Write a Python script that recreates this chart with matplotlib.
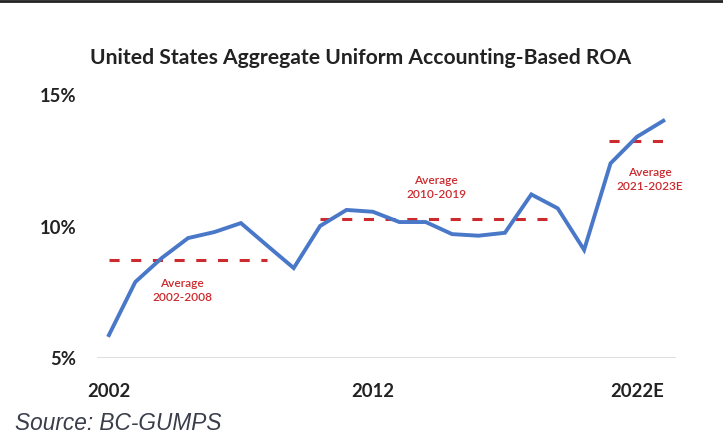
import numpy as np
import matplotlib.pyplot as plt
from matplotlib.lines import Line2D

# ROA data (percent)
years = list(range(2002, 2024))
roa = [5.87, 7.89, 8.80, 9.56, 9.79, 10.13, 9.27, 8.42, 10.02, 10.63, 10.56,
       10.17, 10.17, 9.71, 9.65, 9.76, 11.22, 10.69, 9.11, 12.40, 13.41, 14.02]

avg_periods = [(2002, 2008), (2010, 2018.6), (2020.94, 2023)]
avg_values = [8.73, 10.27, 13.25]
avg_labels = ["Average\n2002-2008", "Average\n2010-2019", "Average\n2021-2023E"]
avg_label_pos = [(2004.77, 7.57), (2014.39, 11.48), (2022.49, 11.79)]

xtick_pos = [2002, 2012, 2022]
xtick_labels = ["2002", "2012", "2022E"]
ytick_pos = [5, 10, 15]
ytick_labels = ["5%", "10%", "15%"]

blue = "#4a78c8"
red = "#cc2a2e"
font = "Lato"

fig = plt.figure(figsize=(7.23, 4.37), dpi=100)
ax = fig.add_axes([97 / 723, 1 - 358 / 437, (676 - 97) / 723, (358 - 95) / 437])

ax.plot(years, roa, color=blue, lw=2.8, solid_joinstyle="miter", zorder=3)

for (x0, x1), v in zip(avg_periods, avg_values):
    ax.plot([x0, x1], [v, v], color=red, lw=2.2, dashes=(3.3, 3.8),
            solid_capstyle="butt", dash_capstyle="butt", zorder=2)

for (tx, ty), lab in zip(avg_label_pos, avg_labels):
    ax.text(tx, ty, lab, color=red, ha="center", va="center", fontsize=8.6,
            family=font, fontweight="semibold", linespacing=1.25)

ax.set_xlim(2001.55, 2023.48)
ax.set_ylim(5, 15)
ax.axhline(5, color="#d9d9d9", lw=1.2, zorder=1)

ax.set_xticks(xtick_pos)
ax.set_xticklabels(xtick_labels, fontsize=13.3, fontweight="bold", family=font,
                   color="#222222")
ax.set_yticks(ytick_pos)
ax.set_yticklabels(ytick_labels, fontsize=13.3, fontweight="bold", family=font,
                   color="#222222")
ax.tick_params(axis="x", length=0, pad=18)
ax.tick_params(axis="y", length=0, pad=15)
for s in ax.spines.values():
    s.set_visible(False)

fig.text(361 / 723, 1 - 58 / 437, "United States Aggregate Uniform Accounting-Based ROA",
         ha="center", va="center", fontsize=15.2, fontweight="bold", family=font,
         color="#222222")
fig.text(15 / 723, 1 - 423 / 437, "Source: BC-GUMPS", ha="left", va="center",
         fontsize=16.3, style="italic", family="Liberation Sans", color="#3a3d4a")

# thin dark border along the top edge
fig.add_artist(Line2D([0, 1], [0.997, 0.997], transform=fig.transFigure,
                      color="#222222", lw=2))

fig.savefig("out.png", dpi=100)
